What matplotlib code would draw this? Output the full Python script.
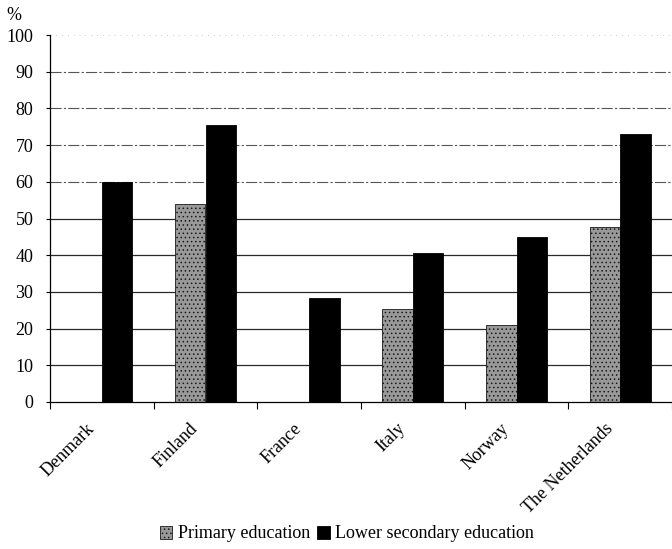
import matplotlib
matplotlib.use("Agg")
import matplotlib.pyplot as plt
import matplotlib.transforms as mtransforms
import numpy as np

countries = ["Denmark", "Finland", "France", "Italy", "Norway", "The Netherlands"]
primary = [0, 54, 0, 25.3, 21, 47.6]
lower_secondary = [60, 75.6, 28.4, 40.6, 45, 73]
yticks = list(range(0, 101, 10))

plt.rcParams["font.family"] = ["Liberation Serif", "DejaVu Serif"]
plt.rcParams["hatch.linewidth"] = 0.6

fig = plt.figure(figsize=(6.72, 5.49), dpi=100)
ax = fig.add_axes([50 / 672, 1 - 402 / 549, 622 / 672, 367 / 549])

x = np.arange(len(countries))
w = 0.295

# horizontal rules: solid in the lower part, broken further up
for v in yticks[1:]:
    if v <= 50:
        ax.axhline(v, color="#2a2a2a", lw=0.9, zorder=0)
    elif v < 100:
        ax.axhline(v, color="#555555", lw=0.8, ls=(0, (10, 2, 2, 2)), zorder=0)
    else:
        ax.axhline(v, color="#bbbbbb", lw=0.6, ls=(0, (1, 6)), zorder=0)

b1 = ax.bar(x - w / 2, primary, w, color="#999999", edgecolor="#1a1a1a",
            hatch="....", lw=0.6, label="Primary education", zorder=2)
b2 = ax.bar(x + w / 2, lower_secondary, w, color="black", edgecolor="black",
            lw=0.6, label="Lower secondary education", zorder=2)

ax.set_ylim(0, 100)
ax.set_xlim(-0.5, -0.5 + 622 / 105)
ax.set_yticks(yticks)
ax.set_yticklabels([str(v) for v in yticks], fontsize=13)
ax.tick_params(axis="y", length=3, width=0.8, pad=9)

# boundary ticks without labels, country names on the minor ticks
ax.set_xticks(np.arange(len(countries) + 1) - 0.5)
ax.set_xticklabels([])
ax.tick_params(axis="x", which="major", length=5, width=0.8, direction="out")
ax.set_xticks(x, minor=True)
ax.set_xticklabels(countries, minor=True, rotation=45, ha="right", va="top",
                   rotation_mode="anchor", fontsize=13)
ax.tick_params(axis="x", which="minor", length=0, pad=13)
shift = mtransforms.ScaledTranslation(-16 / 100, 0, fig.dpi_scale_trans)
for lbl in ax.get_xticklabels(minor=True):
    lbl.set_transform(lbl.get_transform() + shift)

for s in ["top", "right"]:
    ax.spines[s].set_visible(False)
ax.spines["left"].set_linewidth(0.9)
ax.spines["bottom"].set_linewidth(0.9)

fig.text(14 / 672, 1 - 16 / 549, "%", fontsize=13, ha="center", va="center")

fig.legend(handles=[b1, b2], loc="center", bbox_to_anchor=(347 / 672, 1 - 534 / 549),
           ncol=2, frameon=False, fontsize=13, handlelength=0.7, handleheight=0.7,
           handletextpad=0.3, columnspacing=0.4, borderaxespad=0)

fig.savefig("out.png", dpi=100)
